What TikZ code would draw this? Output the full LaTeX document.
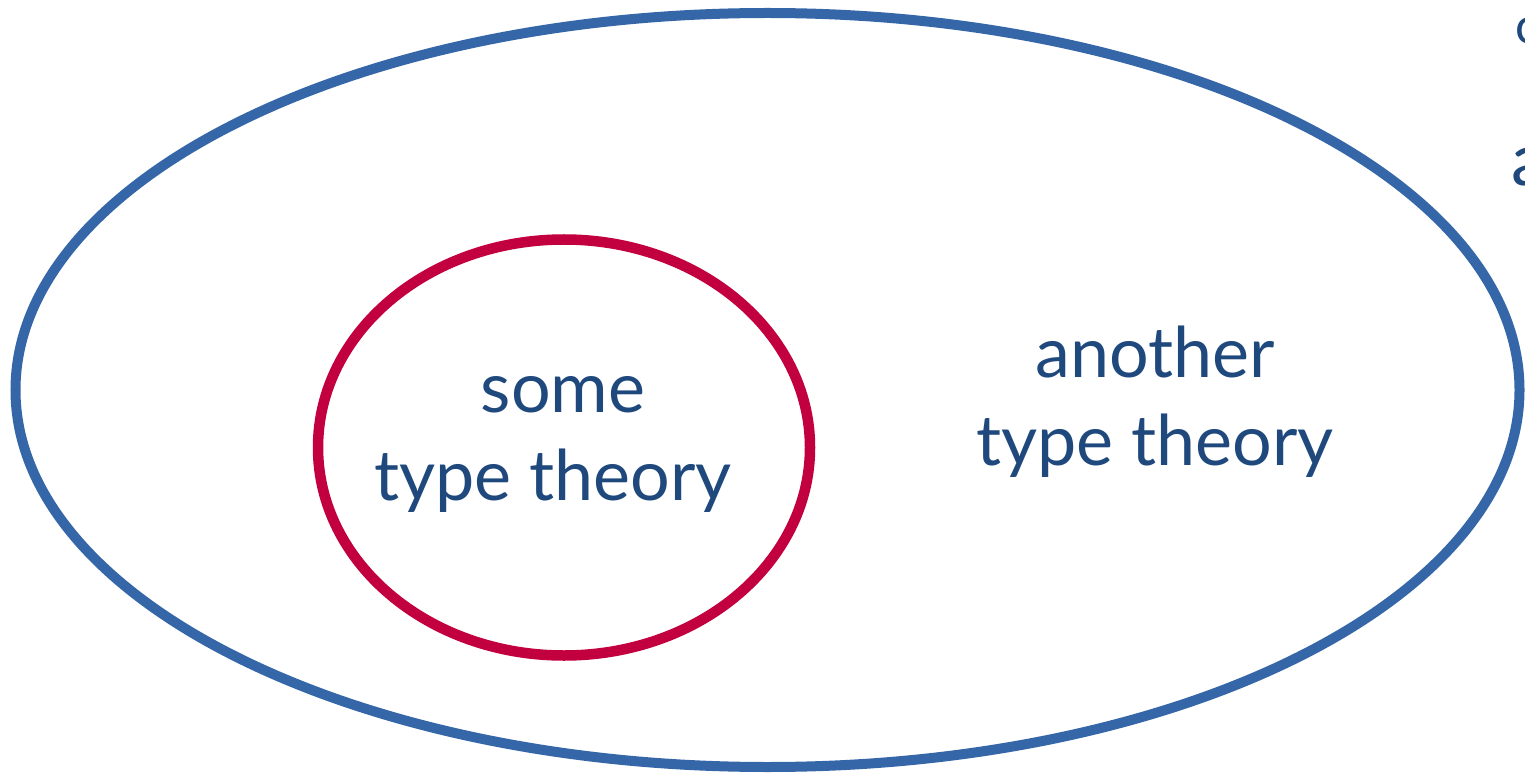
\documentclass[tikz,border=0pt]{standalone}
\usepackage{fontspec}
\setmainfont{Lato}
\definecolor{outerblue}{HTML}{3566A8}
\definecolor{innerred}{HTML}{C2003F}
\definecolor{textblue}{HTML}{1F497D}
\tikzset{
  outerring/.style={draw=outerblue, line width=10pt},
  innerring/.style={draw=innerred, line width=10.5pt},
  label/.style={text=textblue, font=\fontsize{70}{88}\selectfont, inner sep=0pt, anchor=base},
}
\begin{document}
\begin{tikzpicture}[x=1pt,y=-1pt]
\useasboundingbox (0,0) rectangle (1525,775);
\begin{scope}
\clip (0,0) rectangle (1525,775);
\draw[outerring] (767.5,390) ellipse [x radius=752, y radius=377];
\draw[innerring] (564,447.5) ellipse [x radius=246, y radius=208];
\node[label] (some1) at (563,412) {some};
\node[label] (some2) at (553,500) {type theory};
\node[label] (another1) at (1155,377) {another};
\node[label] (another2) at (1155,465) {type theory};
\node[text=textblue, font=\fontsize{50}{60}\selectfont, inner sep=0pt, anchor=base west] (cutc) at (1515,44) {c};
\node[text=textblue, font=\fontsize{73}{88}\selectfont, inner sep=0pt, anchor=base west] (cuta) at (1511,186) {a};
\end{scope}
\end{tikzpicture}
\end{document}
